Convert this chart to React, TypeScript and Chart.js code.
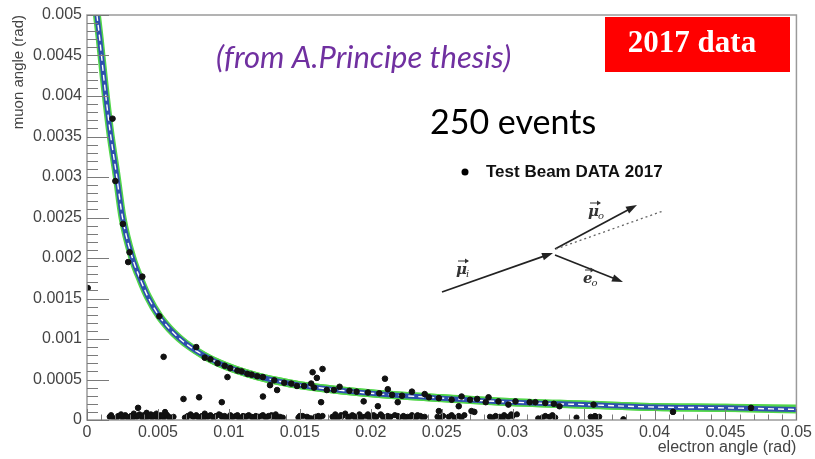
import React, { useEffect, useRef } from "react";
import { Chart, registerables } from "chart.js";
Chart.register(...registerables);

// theory curve (electron angle vs muon angle)
const curveE = [0.0007, 0.0009, 0.0012, 0.0016, 0.0021, 0.0025, 0.0032, 0.0038, 0.0043, 0.0051, 0.0058, 0.0065, 0.0073, 0.0082, 0.0092, 0.0105, 0.012, 0.0135, 0.015, 0.0172, 0.02, 0.025, 0.03, 0.035, 0.04, 0.045, 0.05];
const curveMu = [0.005, 0.0047, 0.0042, 0.0036, 0.003, 0.0025, 0.002, 0.00172, 0.00152, 0.00128, 0.00113, 0.00101, 0.0009, 0.0008, 0.00071, 0.00062, 0.00054, 0.00048, 0.00043, 0.00038, 0.00033, 0.00027, 0.00022, 0.00019, 0.00016, 0.00015, 0.00013];
const greenUpperMu = [0.005, 0.00476, 0.00427, 0.00367, 0.00306, 0.00255, 0.00205, 0.00177, 0.00156, 0.00132, 0.00117, 0.00105, 0.00094, 0.00084, 0.00075, 0.00066, 0.00058, 0.00052, 0.00047, 0.00042, 0.00037, 0.00031, 0.00026, 0.00023, 0.0002, 0.00019, 0.00018];
const greenLowerMu = [0.0049, 0.00463, 0.00413, 0.00353, 0.00294, 0.00245, 0.00195, 0.00167, 0.00148, 0.00124, 0.00109, 0.00097, 0.00086, 0.00076, 0.00067, 0.00058, 0.0005, 0.00044, 0.00039, 0.00034, 0.00029, 0.00023, 0.00018, 0.00015, 0.00012, 0.00011, 0.0001];

// events near the curve and scattered
const eventE = [0.00005, 0.0018, 0.002, 0.00253, 0.003, 0.0029, 0.0039, 0.0051, 0.0054, 0.0077, 0.0036, 0.0068, 0.0079, 0.0095, 0.0099, 0.0124, 0.0129, 0.0134, 0.0159, 0.0166, 0.0162, 0.0165, 0.0158, 0.0083, 0.0092, 0.0106, 0.0113, 0.012, 0.0139, 0.0148, 0.016, 0.0169, 0.021, 0.0212, 0.0205, 0.0195, 0.0219, 0.0178, 0.0185, 0.0206, 0.0229, 0.0238, 0.0241, 0.0257, 0.0264, 0.0262, 0.0271, 0.0283, 0.0281, 0.0297, 0.0312, 0.0316, 0.0333, 0.0357, 0.0413, 0.0468, 0.0273, 0.0248, 0.0087, 0.0097, 0.0101, 0.0109, 0.0116, 0.0124, 0.0132, 0.0144, 0.0153, 0.0174, 0.019, 0.0198, 0.0215, 0.0222, 0.0248, 0.027, 0.0275, 0.029, 0.0302, 0.0323, 0.0329];
const eventMu = [0.00163, 0.00372, 0.00295, 0.00242, 0.00207, 0.00195, 0.00177, 0.00128, 0.00078, 0.0009, 0.00015, 0.00026, 0.00028, 0.00022, 0.00053, 0.00029, 0.00043, 0.00037, 0.00059, 0.00063, 0.00052, 0.00022, 0.00045, 0.00077, 0.0007, 0.00061, 0.00057, 0.00054, 0.00046, 0.00042, 0.0004, 0.00037, 0.00051, 0.00038, 0.00017, 0.00023, 0.00022, 0.00041, 0.00036, 0.00033, 0.00035, 0.00032, 0.00028, 0.00025, 0.00029, 0.00017, 0.00011, 0.00028, 0.00022, 0.00019, 0.00022, 0.00022, 0.00017, 0.00019, 0.0001, 0.00015, 0.0001, 0.00011, 0.00075, 0.00067, 0.00064, 0.0006, 0.00056, 0.00053, 0.00049, 0.00045, 0.00042, 0.00037, 0.00035, 0.00034, 0.00031, 0.0003, 0.00027, 0.00025, 0.00026, 0.00023, 0.00023, 0.00021, 0.0002];

// events with muon angle close to zero
const bottomE = [0.0016, 0.0019, 0.0022, 0.0025, 0.0027, 0.0029, 0.0031, 0.0033, 0.0035, 0.0037, 0.0039, 0.004, 0.0042, 0.0043, 0.0045, 0.0046, 0.0048, 0.0049, 0.0051, 0.0052, 0.0054, 0.0055, 0.0057, 0.0059, 0.0061,
  0.0069, 0.0071, 0.0073, 0.0075, 0.0077, 0.0079, 0.0081, 0.0083, 0.0085, 0.0087, 0.0089, 0.0091, 0.0093, 0.0095, 0.0097, 0.0099, 0.0101, 0.0103, 0.0105, 0.0107, 0.011, 0.0112, 0.0114, 0.0117, 0.0119, 0.0121, 0.0124, 0.0126, 0.0128, 0.0131, 0.0133, 0.0136, 0.0138,
  0.0149, 0.0152, 0.0155, 0.0158, 0.0161, 0.0164, 0.0166,
  0.0173, 0.0175, 0.0177, 0.018, 0.0182, 0.0185, 0.0187, 0.0189, 0.0192, 0.0194, 0.0197, 0.0199, 0.0202, 0.0204, 0.0207, 0.0209, 0.0212, 0.0214, 0.0217, 0.022, 0.0223, 0.0226, 0.0229, 0.0232, 0.0235, 0.0238,
  0.0247, 0.0251, 0.0255, 0.0259, 0.0262, 0.0266, 0.0284, 0.0288, 0.0291, 0.0294, 0.0297, 0.03, 0.0303, 0.0318, 0.0323, 0.0326, 0.033, 0.0345, 0.0355, 0.0358, 0.0361, 0.0378,
  0.0017, 0.0021, 0.0024, 0.0028, 0.0032, 0.0036, 0.0041, 0.0044, 0.0047, 0.005, 0.0053, 0.0056, 0.0058,
  0.007, 0.0074, 0.0078, 0.0082, 0.0086, 0.009, 0.0094, 0.0098, 0.0102, 0.0106, 0.0109, 0.0113, 0.0116, 0.012, 0.0123, 0.0127, 0.013, 0.0134,
  0.015, 0.0156, 0.0163,
  0.0174, 0.0179, 0.0184, 0.0188, 0.0193, 0.0198, 0.0203, 0.0208, 0.0213, 0.0219, 0.0224, 0.0228, 0.0233, 0.0237,
  0.0249, 0.0257, 0.0264, 0.0286, 0.0293, 0.0299, 0.0321, 0.0328, 0.0356, 0.0359];
const bottomMu = [0.00004, 0.00002, 0.00005, 0.00003, 0.00006, 0.00003, 0.00005, 0.00008, 0.00004, 0.00007, 0.00003, 0.00006, 0.00009, 0.00004, 0.00007, 0.00003, 0.00005, 0.00008, 0.00004, 0.00006, 0.00003, 0.0001, 0.00005, 0.00003, 0.00004,
  0.00003, 0.00005, 0.00007, 0.00004, 0.00006, 0.00003, 0.00005, 0.00008, 0.00004, 0.00006, 0.00003, 0.00005, 0.00007, 0.00004, 0.00005, 0.00003, 0.00006, 0.00004, 0.00005, 0.00003, 0.00005, 0.00004, 0.00006, 0.00003, 0.00005, 0.00004, 0.00006, 0.00003, 0.00005, 0.00004, 0.00007, 0.00004, 0.00003,
  0.00003, 0.00005, 0.00004, 0.00002, 0.00004, 0.00003, 0.00005,
  0.00004, 0.00007, 0.00003, 0.00005, 0.00008, 0.00004, 0.00006, 0.00003, 0.00007, 0.00004, 0.00005, 0.00003, 0.00006, 0.00004, 0.00007, 0.00003, 0.00005, 0.00004, 0.00006, 0.00003, 0.00005, 0.00004, 0.00006, 0.00003, 0.00005, 0.00004,
  0.00004, 0.00005, 0.00004, 0.00003, 0.00005, 0.00006, 0.00004, 0.00005, 0.00004, 0.00006, 0.00004, 0.00005, 0.00007, 0.00002, 0.00005, 0.00004, 0.00003, 0.00003, 0.00004, 0.00005, 0.00004, 0.00001,
  0.00006, 0.00003, 0.00007, 0.00004, 0.00002, 0.00005, 0.00003, 0.00005, 0.00006, 0.00002, 0.00005, 0.00007, 0.00003,
  0.00002, 0.00005, 0.00004, 0.00002, 0.00005, 0.00004, 0.00006, 0.00002, 0.00004, 0.00006, 0.00002, 0.00005, 0.00004, 0.00002, 0.00005, 0.00004, 0.00006, 0.00002,
  0.00005, 0.00003, 0.00005,
  0.00002, 0.00006, 0.00003, 0.00005, 0.00002, 0.00007, 0.00003, 0.00005, 0.00002, 0.00005, 0.00003, 0.00004, 0.00006, 0.00002,
  0.00002, 0.00006, 0.00003, 0.00003, 0.00002, 0.00007, 0.00003, 0.00006, 0.00002, 0.00003];

const xTickValues = [0, 0.005, 0.01, 0.015, 0.02, 0.025, 0.03, 0.035, 0.04, 0.045, 0.05];
const xTickLabels = ["0", "0.005", "0.01", "0.015", "0.02", "0.025", "0.03", "0.035", "0.04", "0.045", "0.05"];
const yTickValues = [0, 0.0005, 0.001, 0.0015, 0.002, 0.0025, 0.003, 0.0035, 0.004, 0.0045, 0.005];
const yTickLabels = ["0", "0.0005", "0.001", "0.0015", "0.002", "0.0025", "0.003", "0.0035", "0.004", "0.0045", "0.005"];

const AXIS_COLOR = "#444";
const FRAME_COLOR = "#9a9a9a";

function labelFor(values: number[], labels: string[], v: number) {
  const i = values.findIndex((t) => Math.abs(t - v) < 1e-9);
  return i >= 0 ? labels[i] : "";
}

function arrow(ctx: CanvasRenderingContext2D, x1: number, y1: number, x2: number, y2: number, head = 11) {
  const a = Math.atan2(y2 - y1, x2 - x1);
  ctx.beginPath();
  ctx.moveTo(x1, y1);
  ctx.lineTo(x2 - Math.cos(a) * head * 0.8, y2 - Math.sin(a) * head * 0.8);
  ctx.stroke();
  ctx.beginPath();
  ctx.moveTo(x2, y2);
  ctx.lineTo(x2 - head * Math.cos(a) + 3.8 * Math.sin(a), y2 - head * Math.sin(a) - 3.8 * Math.cos(a));
  ctx.lineTo(x2 - head * Math.cos(a) - 3.8 * Math.sin(a), y2 - head * Math.sin(a) + 3.8 * Math.cos(a));
  ctx.closePath();
  ctx.fill();
}

function vecLabel(ctx: CanvasRenderingContext2D, sym: string, sub: string, x: number, y: number) {
  ctx.font = 'italic bold 15px "DejaVu Serif"';
  ctx.textAlign = "left";
  ctx.textBaseline = "alphabetic";
  ctx.fillStyle = "#333";
  ctx.fillText(sym, x, y);
  const w = ctx.measureText(sym).width;
  ctx.font = 'italic 10px "DejaVu Serif"';
  ctx.fillText(sub, x + w - 1, y + 3);
  ctx.strokeStyle = "#333";
  ctx.lineWidth = 1;
  ctx.beginPath();
  ctx.moveTo(x + 2, y - 13);
  ctx.lineTo(x + w + 1, y - 13);
  ctx.stroke();
  ctx.beginPath();
  ctx.moveTo(x + w + 2, y - 13);
  ctx.lineTo(x + w - 2, y - 15.5);
  ctx.lineTo(x + w - 2, y - 10.5);
  ctx.closePath();
  ctx.fill();
}

const overlayPlugin = {
  id: "rootStyle",
  afterDraw(chart: any) {
    const { ctx, chartArea: ca, scales } = chart;
    const xs = scales.x;
    const ys = scales.y;
    ctx.save();
    ctx.strokeStyle = FRAME_COLOR;
    ctx.lineWidth = 1.5;
    ctx.strokeRect(ca.left, ca.top, ca.right - ca.left, ca.bottom - ca.top);
    ctx.strokeStyle = "#7a7a7a";
    ctx.lineWidth = 1;
    for (let k = 0; k <= 50; k++) {
      const py = Math.round(ys.getPixelForValue(k * 0.0001)) + 0.5;
      const len = k % 5 === 0 ? 22 : 11;
      ctx.beginPath();
      ctx.moveTo(ca.left, py);
      ctx.lineTo(ca.left + len, py);
      ctx.stroke();
    }
    for (let k = 0; k <= 50; k++) {
      const px = Math.round(xs.getPixelForValue(k * 0.001)) + 0.5;
      const len = k % 5 === 0 ? 11 : 5.5;
      ctx.beginPath();
      ctx.moveTo(px, ca.bottom);
      ctx.lineTo(px, ca.bottom - len);
      ctx.stroke();
    }

    ctx.fillStyle = "#7030A0";
    ctx.font = "italic 31px Lato";
    ctx.textAlign = "left";
    ctx.textBaseline = "alphabetic";
    ctx.fillText("(from A.Principe thesis)", 216, 68);

    ctx.fillStyle = "#ff0000";
    ctx.fillRect(605, 17, 185, 55);
    ctx.fillStyle = "#ffffff";
    ctx.font = 'bold 31px "Liberation Serif"';
    ctx.textAlign = "center";
    ctx.textBaseline = "middle";
    ctx.fillText("2017 data", 692, 44);

    ctx.fillStyle = "#000";
    ctx.font = "34px Lato";
    ctx.textAlign = "left";
    ctx.textBaseline = "alphabetic";
    ctx.fillText("250 events", 430, 134);

    ctx.beginPath();
    ctx.arc(465, 172, 3.5, 0, Math.PI * 2);
    ctx.fill();
    ctx.font = 'bold 17px "Liberation Sans"';
    ctx.textBaseline = "middle";
    ctx.fillStyle = "#111";
    ctx.fillText("Test Beam DATA 2017", 486, 172);

    ctx.strokeStyle = "#222";
    ctx.fillStyle = "#222";
    ctx.lineWidth = 1.7;
    arrow(ctx, 442, 292, 553, 253);
    arrow(ctx, 555, 249, 637, 205);
    arrow(ctx, 555, 255, 623, 282);
    ctx.setLineDash([2, 3]);
    ctx.strokeStyle = "#666";
    ctx.lineWidth = 1.3;
    ctx.beginPath();
    ctx.moveTo(556, 249);
    ctx.lineTo(663, 211);
    ctx.stroke();
    ctx.setLineDash([]);
    vecLabel(ctx, "μ", "i", 456, 274);
    vecLabel(ctx, "μ", "o", 588, 216);
    vecLabel(ctx, "e", "o", 583, 283);
    ctx.restore();
  },
};

export default function App() {
  const ref = useRef<HTMLCanvasElement | null>(null);
  useEffect(() => {
    if (!ref.current) return;
    const pts = (xs: number[], ys: number[]) => xs.map((x, i) => ({ x, y: ys[i] }));
    const tickFont = { family: '"Liberation Sans", Arial, sans-serif', size: 16 };
    const titleFont = { family: '"Liberation Sans", Arial, sans-serif', size: 16 };
    const line = (data: any[], color: string, width: number, order: number, extra: any = {}) => ({
      type: "line",
      data,
      borderColor: color,
      borderWidth: width,
      pointRadius: 0,
      cubicInterpolationMode: "monotone",
      order,
      ...extra,
    });
    const chart = new Chart(ref.current, {
      type: "scatter",
      data: {
        datasets: [
          { label: "Test Beam DATA 2017", data: pts(eventE, eventMu), backgroundColor: "#111", borderColor: "#111", pointRadius: 2.8, order: 1 },
          { label: "events near zero", data: pts(bottomE, bottomMu), backgroundColor: "#111", borderColor: "#111", pointRadius: 2.6, order: 1 },
          line(pts(curveE, curveMu), "#ffffff", 1.4, 2, { label: "white dash", borderDash: [6, 4] }),
          line(pts(curveE, curveMu), "#2e4fae", 5, 3, { label: "theory" }),
          line(pts(curveE, curveMu), "#52d64a", 8, 4, { label: "band" }),
          line(pts(curveE, greenUpperMu), "#52d64a", 1.6, 5, { label: "upper" }),
          line(pts(curveE, greenLowerMu), "#52d64a", 1.6, 5, { label: "lower" }),
        ],
      },
      options: {
        responsive: false,
        animation: false,
        devicePixelRatio: 1,
        layout: { padding: { top: 15, right: 17, bottom: 0, left: 0 } },
        plugins: { legend: { display: false }, tooltip: { enabled: false }, title: { display: false } },
        scales: {
          x: {
            type: "linear",
            min: 0,
            max: 0.05,
            afterBuildTicks: (s: any) => { s.ticks = xTickValues.map((v) => ({ value: v })); },
            afterFit: (s: any) => { s.height = 39; },
            ticks: {
              autoSkip: false,
              maxRotation: 0,
              padding: 3,
              color: AXIS_COLOR,
              font: tickFont,
              callback: (v: any) => labelFor(xTickValues, xTickLabels, Number(v)),
            },
            grid: { display: false, drawTicks: false },
            border: { display: false },
            title: { display: true, text: "electron angle (rad)", align: "end", color: AXIS_COLOR, font: titleFont, padding: { top: 0, bottom: 2 } },
          },
          y: {
            type: "linear",
            min: 0,
            max: 0.005,
            afterBuildTicks: (s: any) => { s.ticks = yTickValues.map((v) => ({ value: v })); },
            afterFit: (s: any) => { s.width = 87; },
            ticks: {
              autoSkip: false,
              padding: 5,
              color: AXIS_COLOR,
              font: tickFont,
              callback: (v: any) => labelFor(yTickValues, yTickLabels, Number(v)),
            },
            grid: { display: false, drawTicks: false },
            border: { display: false },
            title: { display: true, text: "muon angle (rad)", align: "end", color: AXIS_COLOR, font: { family: '"Liberation Sans", Arial, sans-serif', size: 15 }, padding: { top: 10, bottom: 0 } },
          },
        },
      },
      plugins: [overlayPlugin],
    } as any);
    return () => chart.destroy();
  }, []);
  return (
    <div style={{ position: "absolute", left: 0, top: 0, width: 815, height: 459, background: "#fff" }}>
      <canvas ref={ref} width={815} height={459} />
    </div>
  );
}
